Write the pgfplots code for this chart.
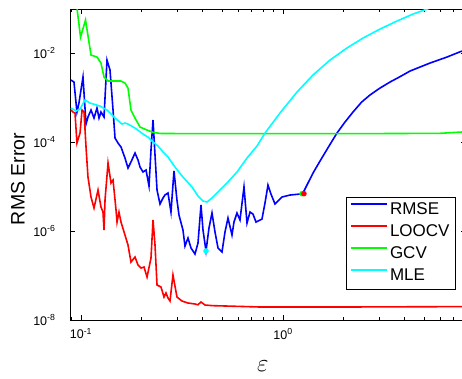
\documentclass[border=0pt]{standalone}
\usepackage{fontspec}
\setmainfont{Liberation Sans}
\usepackage{pgfplots}
\pgfplotsset{compat=1.18}
\definecolor{mblue}{rgb}{0,0,1}
\definecolor{mred}{rgb}{1,0,0}
\definecolor{mgreen}{rgb}{0,1,0}
\definecolor{mcyan}{rgb}{0,1,1}
\begin{document}
\begin{tikzpicture}
\useasboundingbox (-70pt,-58pt) rectangle (392pt,320pt);
\begin{loglogaxis}[
  at={(0pt,0pt)}, anchor=south west,
  scale only axis, width=396pt, height=311pt,
  xmin=0.08822, xmax=8.053, ymin=1e-8, ymax=0.0977,
  axis line style={black, line width=0.8pt},
  tick align=inside,
  major tick length=5pt, minor tick length=3pt,
  every tick/.style={black, line width=0.7pt},
  ytick={1e-8,1e-6,1e-4,1e-2},
  yticklabels={10\textsuperscript{-8},10\textsuperscript{-6},10\textsuperscript{-4},10\textsuperscript{-2}},
  minor y tick style={draw=none},
  xtick={0.1,1},
  xticklabels={10\textsuperscript{-1},10\textsuperscript{0}},
  minor xtick={0.09,0.2,0.3,0.4,0.5,0.6,0.7,0.8,0.9,2,3,4,5,6,7,8},
  tick label style={font=\fontsize{12.5}{14}\selectfont},
  yticklabel style={xshift=-11pt},
  xticklabel style={yshift=-5pt},
  ylabel={RMS Error},
  ylabel style={font=\fontsize{19.5}{22}\selectfont, at={(axis description cs:-0.1313,0.4534)}, anchor=center},
  xlabel={$\varepsilon$},
  xlabel style={font=\fontsize{46}{50}\selectfont, at={(axis description cs:0.487,-0.148)}, anchor=center},
  legend style={at={(axis description cs:0.697,0.3955)}, anchor=north west,
    draw=black, line width=0.8pt, fill=white,
    font=\fontsize{17}{20}\selectfont,
    inner xsep=4pt, inner ysep=3pt, row sep=2.5pt,
    nodes={inner xsep=2pt, inner ysep=2pt, text height=12pt, text depth=3.5pt},
    /tikz/every even column/.append style={column sep=0pt}},
  legend cell align=left,
  legend image code/.code={\draw[#1] (0pt,6pt) -- (36pt,6pt);},
]
\addplot[mblue, line width=1.6pt] coordinates {
(0.0892,2.47e-3) (0.0923,2.23e-3) (0.0955,4.72e-4) (0.0977,7.52e-4) (0.1023,2.89e-3)
(0.1059,2.54e-4) (0.1083,3.65e-4) (0.1121,5.24e-4) (0.1160,3.46e-4) (0.1200,5.81e-4)
(0.1228,3.46e-4) (0.1256,4.72e-4) (0.1300,3.65e-4) (0.1345,6.96e-3) (0.1392,4.15e-3)
(0.1441,5.24e-4) (0.1474,1.23e-4) (0.1525,9.5e-5) (0.1578,7.73e-5) (0.1651,4.37e-5)
(0.1709,2.61e-5) (0.1768,3.56e-5) (0.1851,5.66e-5) (0.1916,3.94e-5) (0.1960,2.74e-5)
(0.2028,2.12e-5) (0.2099,2.35e-5) (0.2171,1.03e-5) (0.2221,6.61e-5) (0.2273,3.12e-4)
(0.2325,5.11e-5) (0.2379,8.34e-6) (0.2461,4.05e-6) (0.2547,5.52e-6) (0.2605,6.44e-6)
(0.2696,7.14e-6) (0.2789,2.67e-6) (0.2886,2.23e-5) (0.2986,4.98e-6) (0.3055,2.29e-6)
(0.3198,1.05e-6) (0.3272,4.60e-7) (0.3386,6.97e-7) (0.3504,4.15e-7) (0.3667,3.04e-7)
(0.3795,5.37e-7) (0.3927,3.84e-6) (0.4018,1.05e-6) (0.4158,3.56e-7) (0.4302,1.17e-6)
(0.4452,2.54e-6) (0.4607,9.5e-7) (0.4768,4.15e-7) (0.4989,3.38e-7) (0.5163,9.5e-7)
(0.5342,1.96e-6) (0.5591,8.13e-7) (0.5720,1.59e-6) (0.5919,2.54e-6) (0.6125,1.77e-6)
(0.6411,9.75e-6) (0.6635,1.51e-6) (0.6866,2.67e-6) (0.7105,2.4e-6) (0.7351,1.59e-6)
(0.7871,1.86e-6) (0.8145,4.26e-6) (0.8426,1.08e-5) (0.8721,6.78e-6) (0.9129,4.05e-6)
(0.9886,5.81e-6) (1.083,6.44e-6) (1.214,6.78e-6) (1.256,7.14e-6) (1.330,1.20e-5)
(1.408,2.01e-5) (1.525,3.74e-5) (1.690,8.13e-5) (1.850,1.59e-4) (2.027,2.81e-4)
(2.221,4.72e-4) (2.45,7.9e-4) (2.696,1.14e-3) (3.0,1.6e-3) (3.386,2.23e-3) (3.8,2.95e-3)
(4.253,3.94e-3) (5.343,5.96e-3) (6.484,8.13e-3) (7.692,1.11e-2)
};
\addlegendentry{RMSE}
\addplot[mred, line width=1.6pt] coordinates {
(0.0892,5.24e-4) (0.0913,4.72e-4) (0.0934,4.49e-4) (0.0955,9.5e-5) (0.0989,1.59e-4)
(0.1012,5.24e-4) (0.1035,4.72e-4) (0.1059,7.73e-5) (0.1083,1.63e-5) (0.1121,5.81e-6)
(0.1160,3.29e-6) (0.1214,8.34e-6) (0.1256,3.46e-6) (0.1285,2.67e-6) (0.1300,1.05e-6)
(0.1315,4.98e-6) (0.1361,3.38e-5) (0.1408,1.20e-5) (0.1441,1.40e-5) (0.1491,2.96e-6)
(0.1508,1.59e-6) (0.1542,2.67e-6) (0.1578,1.59e-6) (0.1651,8.13e-7) (0.1709,4.84e-7)
(0.1768,2.01e-7) (0.1851,2.61e-7) (0.1916,1.72e-7) (0.1982,1.47e-7) (0.2051,1.55e-7)
(0.2123,9.25e-8) (0.2221,2.47e-7) (0.2273,1.77e-6) (0.2325,4.84e-7) (0.2379,6.12e-8)
(0.2489,5.52e-8) (0.2576,3.29e-8) (0.2635,4.05e-8) (0.2696,3.12e-8) (0.2758,2.67e-8)
(0.2853,1.03e-7) (0.2986,3.29e-8) (0.3162,2.67e-8) (0.3386,2.41e-8) (0.3667,2.29e-8)
(0.3795,2.2e-8) (0.3927,2.54e-8) (0.4111,2.17e-8) (0.4503,2.1e-8) (0.5281,2.06e-8)
(0.7694,1.96e-8) (2.0,1.96e-8) (7.692,2.0e-8)
};
\addlegendentry{LOOCV}
\addplot[mgreen, line width=1.6pt] coordinates {
(0.0955,0.1026) (0.0995,0.0229) (0.1053,0.0553) (0.1121,0.00902) (0.1200,0.00813)
(0.1256,0.00596) (0.1300,0.00289) (0.1361,0.00235) (0.1578,0.00235) (0.1651,0.00212)
(0.1709,0.00163) (0.1768,0.000524) (0.1851,0.000346) (0.1960,0.000217) (0.2123,0.000186)
(0.2273,0.000165) (0.2461,0.000156) (0.30,0.000155) (0.5,0.000154) (1.0,0.000155)
(3.0,0.000155) (5.99,0.000157) (7.692,0.000168)
};
\addlegendentry{GCV}
\addplot[mcyan, line width=1.6pt] coordinates {
(0.0892,5.81e-4) (0.0945,4.98e-4) (0.0989,5.52e-4) (0.1047,8.79e-4) (0.1108,7.52e-4)
(0.1242,6.44e-4) (0.1345,5.24e-4) (0.1474,3.46e-4) (0.1596,2.54e-4) (0.1651,2.67e-4)
(0.1709,2.54e-4) (0.1851,2.06e-4) (0.2028,1.51e-4) (0.2147,1.29e-4) (0.2273,1.0e-4)
(0.2406,8.13e-5) (0.2547,5.96e-5) (0.2696,4.60e-5) (0.2919,2.74e-5) (0.3198,1.63e-5)
(0.3544,9.75e-6) (0.3795,6.12e-6) (0.4018,4.72e-6) (0.4205,4.49e-6) (0.4452,5.52e-6)
(0.4768,7.52e-6) (0.5281,1.20e-5) (0.5919,2.12e-5) (0.6635,4.37e-5) (0.7436,8.13e-5)
(0.8145,1.59e-4) (0.9663,4.49e-4) (1.173,1.33e-3) (1.408,3.21e-3) (1.709,6.96e-3)
(2.074,0.0130) (2.489,0.0217) (3.021,0.0346) (3.668,0.0524) (4.401,0.0752)
(5.343,0.1026) (6.3,0.13)
};
\addlegendentry{MLE}
\addplot[forget plot, only marks, mark=*, mark size=2.5pt, mgreen] coordinates {(1.242,6.9e-6)};
\addplot[forget plot, only marks, mark=*, mark size=2.5pt, mred] coordinates {(1.270,6.9e-6)};
\addplot[forget plot, only marks, mark=*, mark size=2.5pt, mcyan] coordinates {(0.4158,3.56e-7)};
\end{loglogaxis}
\end{tikzpicture}
\end{document}
